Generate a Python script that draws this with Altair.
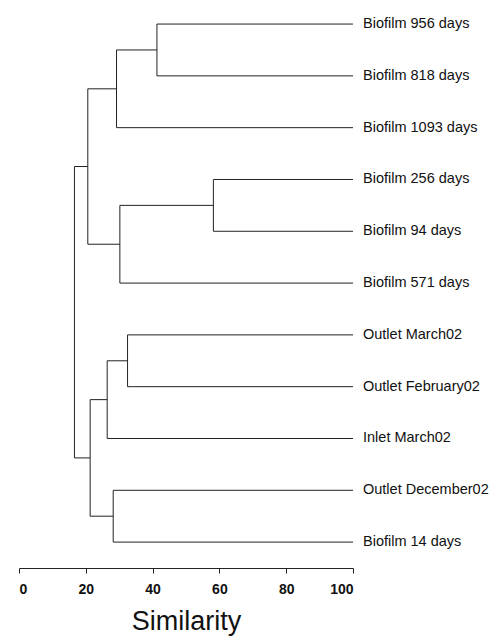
import altair as alt
import pandas as pd

# Leaves, top to bottom
leaves = [
    "Biofilm 956 days", "Biofilm 818 days", "Biofilm 1093 days",
    "Biofilm 256 days", "Biofilm 94 days", "Biofilm 571 days",
    "Outlet March02", "Outlet February02", "Inlet March02",
    "Outlet December02", "Biofilm 14 days",
]
# Merges: (child A, child B, similarity). Leaves are "L<i>", nodes are "N<j>".
merge_a = ["L0", "N0", "L3", "N2", "N1", "L6", "N5", "L9", "N6", "N4"]
merge_b = ["L1", "L2", "L4", "L5", "N3", "L7", "L8", "L10", "N7", "N8"]
merge_sim = [41.3, 29.2, 58.2, 30.2, 20.6, 32.5, 26.4, 28.2, 21.3, 16.6]
tick_values = [0, 20, 40, 60, 80, 100]

# Build node positions
pos = {}
for i in range(len(leaves)):
    pos[f"L{i}"] = (100.0, float(i))
parent = {}
for j, (a, b, s) in enumerate(zip(merge_a, merge_b, merge_sim)):
    ya, yb = pos[a][1], pos[b][1]
    pos[f"N{j}"] = (s, (ya + yb) / 2)
    parent[a] = f"N{j}"
    parent[b] = f"N{j}"

rows = []
for node, (x, y) in pos.items():
    if node in parent:
        px = pos[parent[node]][0]
        rows.append({"x": x, "x2": px, "y": y, "y2": y})
for j, (a, b) in enumerate(zip(merge_a, merge_b)):
    x = merge_sim[j]
    rows.append({"x": x, "x2": x, "y": pos[a][1], "y2": pos[b][1]})
seg = pd.DataFrame(rows)
lab = pd.DataFrame({"label": leaves, "x": [100.0] * len(leaves),
                    "y": list(range(len(leaves)))})

xscale = alt.Scale(domain=[0, 100], nice=False, zero=False)
yscale = alt.Scale(domain=[10.5, -0.31], nice=False, zero=False)

xaxis = alt.Axis(title="Similarity", values=tick_values, grid=False,
                 domainColor="#222222", tickColor="#222222",
                 tickSize=5, labelFontSize=14, labelFontWeight="bold",
                 labelFont="Liberation Sans", labelColor="#111111",
                 labelPadding=9, titleFont="Liberation Sans",
                 titleFontSize=27, titleFontWeight="normal",
                 titleColor="#111111", titlePadding=12)

lines = alt.Chart(seg).mark_rule(color="#222222", strokeWidth=1).encode(
    x=alt.X("x:Q", scale=xscale, axis=xaxis),
    x2="x2:Q",
    y=alt.Y("y:Q", scale=yscale, axis=None),
    y2="y2:Q",
)

texts = alt.Chart(lab).mark_text(
    align="left", baseline="middle", dx=10, fontSize=14.5,
    font="Liberation Sans", color="#111111"
).encode(
    x=alt.X("x:Q", scale=xscale, axis=xaxis),
    y=alt.Y("y:Q", scale=yscale, axis=None),
    text="label:N",
)

chart = alt.layer(lines, texts).properties(
    width=334, height=560,
    autosize="none",
    background="white",
    padding={"left": 11, "top": 0, "right": 139, "bottom": 68},
).configure_view(stroke=None)

chart.save("out.html", embed_options={"renderer": "svg", "actions": False})
